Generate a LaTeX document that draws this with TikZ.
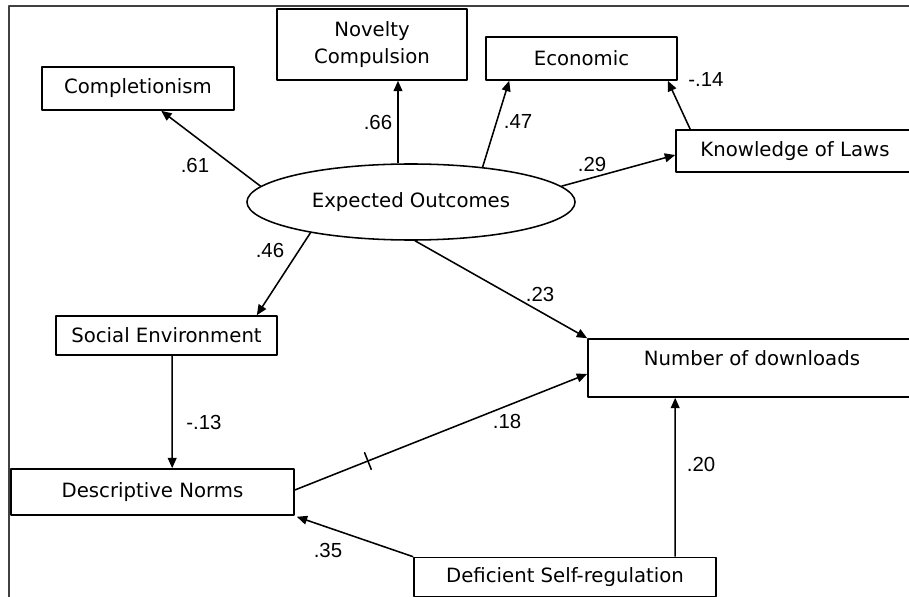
\documentclass[tikz,border=0pt]{standalone}
\usepackage{fontspec}
\setmainfont{DejaVu Sans}
\newfontfamily\numfont{Liberation Sans}
\usetikzlibrary{shapes.geometric,arrows.meta,calc}
\tikzset{
	box/.style={draw, rectangle, inner sep=0pt, align=center, font=\fontsize{14}{19}\selectfont},
	oval/.style={draw, ellipse, inner sep=0pt, font=\fontsize{14}{19}\selectfont},
	lbl/.style={inner sep=0pt, font=\numfont\fontsize{14.5}{16}\selectfont},
	tickmark/.style={draw, sloped, inner sep=0pt, minimum width=0pt, minimum height=0.45cm},
}
\begin{document}
\begin{tikzpicture}[x=0.025cm, y=-0.025cm, line width=1.1pt, line join=round, >={Triangle[length=2.6mm,width=2.2mm]}]
	\clip (0,0) rectangle (909,597);
	\draw[black!75] (9,597) -- (9,6) -- (909,6);
	% boxes
	\node[box, minimum width=4.8cm, minimum height=1.075cm] (comp) at (138,88.5) {Completionism};
	\node[box, minimum width=4.75cm, minimum height=1.775cm] (nov) at (372,44.5) {Novelty\\Compulsion};
	\node[box, minimum width=4.775cm, minimum height=1.075cm] (econ) at (581.5,58.5) {Economic};
	\node[box, minimum width=5.95cm, minimum height=1.05cm] (know) at (795,151) {Knowledge of Laws};
	\node[oval, minimum width=8.2cm, minimum height=1.9cm] (eo) at (411,202) {Expected Outcomes};
	\node[box, minimum width=5.525cm, minimum height=0.975cm] (soc) at (166.5,335.5) {Social Environment};
	\node[box, minimum width=8.2cm, minimum height=1.45cm] (ndl) at (752,368) {Number of downloads\\[-10pt] \strut};
	\node[box, minimum width=7.075cm, minimum height=1.15cm] (desc) at (152.5,492) {Descriptive Norms};
	\node[box, minimum width=7.55cm, minimum height=0.975cm] (def) at (565,577) {Deficient Self-regulation};
	% paths
	\draw[->] (eo.174) -- ($(comp.south west)+(120,0)$);
	\draw[->] ($(eo.north)+(-13,0)$) -- ($(nov.south)+(26,0)$);
	\draw[->] (eo.26) -- ($(econ.south west)+(24,0)$);
	\draw[->] (eo.6) -- ($(know.west)+(0,4)$);
	\draw[->] ($(know.north west)+(15,0)$) -- ($(econ.south east)+(-10,0)$);
	\draw[->] (eo.197) -- ($(soc.north east)+(-21,0)$);
	\draw[->] ($(eo.south)+(4,0)$) -- (ndl.north west);
	\draw[->] ($(soc.south west)+(117,0)$) -- ($(desc.north west)+(162,0)$);
	\draw[->] ($(desc.east)+(0,-2)$) -- ($(ndl.west)+(0,6)$) node[tickmark, pos=.25] (tk) {};
	\draw[->] (def.north west) -- ($(desc.south east)+(2,1)$);
	\draw[->] ($(def.north west)+(262,0)$) -- ($(ndl.south west)+(88,0)$);
	% weights
	\node[lbl] (w61) at (195,165) {.61};
	\node[lbl] (w66) at (378,122) {.66};
	\node[lbl] (w47) at (518,121) {.47};
	\node[lbl] (w29) at (592,164) {.29};
	\node[lbl] (w14) at (706,79) {-.14};
	\node[lbl] (w46) at (270,250) {.46};
	\node[lbl] (w23) at (540,294) {.23};
	\node[lbl] (w13) at (204,422) {-.13};
	\node[lbl] (w18) at (507,421) {.18};
	\node[lbl] (w20) at (701,464) {.20};
	\node[lbl] (w35) at (328,550) {.35};
\end{tikzpicture}
\end{document}
